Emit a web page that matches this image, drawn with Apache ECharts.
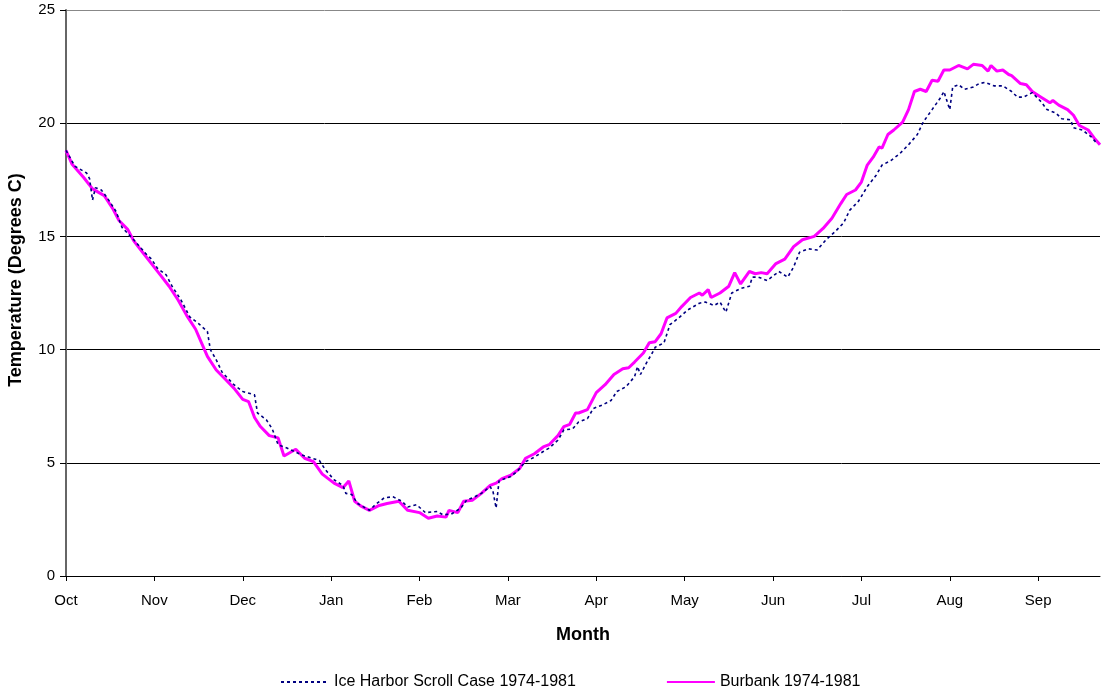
<!DOCTYPE html>
<html>
<head>
<meta charset="utf-8">
<script src="https://cdn.jsdelivr.net/npm/echarts@6/dist/echarts.min.js"></script>
<style>
  html, body { margin: 0; padding: 0; background: #fff; }
  #main { width: 1102px; height: 692px; }
</style>
</head>
<body>
<div id="main"></div>
<script>
// month tick labels, one every 30 days starting at Oct 1
var months = ['Oct', 'Nov', 'Dec', 'Jan', 'Feb', 'Mar', 'Apr', 'May', 'Jun', 'Jul', 'Aug', 'Sep'];

// Burbank 1974-1981 (day of water year, deg C)
var burbankDays = [0, 2, 6, 9, 13, 16, 18, 21, 23, 26, 29, 32, 35, 38, 41, 44, 46, 48, 51, 54, 57, 60, 62, 64, 66, 69, 72, 73, 74, 78, 81, 84, 87, 91, 94, 96, 98, 100, 103, 106, 109, 113, 116, 120, 123, 126, 129, 130, 133, 135, 138, 141, 144, 146, 148, 151, 154, 156, 159, 162, 164, 167, 169, 171, 173, 174, 177, 180, 183, 186, 189, 191, 193, 196, 198, 200, 202, 204, 207, 209, 212, 215, 216, 218, 219, 222, 225, 227, 229, 232, 234, 236, 238, 241, 244, 247, 250, 254, 257, 260, 263, 265, 268, 270, 272, 274, 276, 277, 279, 281, 284, 286, 288, 290, 292, 294, 296, 298, 300, 303, 306, 308, 311, 313, 314, 316, 318, 320, 321, 324, 326, 328, 331, 334, 335, 337, 340, 342, 344, 347, 349, 351];
var burbankTemps = [18.8, 18.2, 17.6, 17.1, 16.8, 16.2, 15.7, 15.3, 14.8, 14.3, 13.8, 13.3, 12.8, 12.2, 11.5, 10.9, 10.3, 9.7, 9.1, 8.7, 8.3, 7.8, 7.7, 7.0, 6.6, 6.2, 6.1, 5.7, 5.3, 5.6, 5.2, 5.05, 4.5, 4.1, 3.9, 4.2, 3.3, 3.1, 2.9, 3.1, 3.2, 3.3, 2.9, 2.8, 2.55, 2.65, 2.6, 2.9, 2.8, 3.3, 3.35, 3.65, 4.0, 4.1, 4.3, 4.45, 4.75, 5.2, 5.4, 5.7, 5.8, 6.2, 6.6, 6.7, 7.2, 7.2, 7.35, 8.1, 8.45, 8.9, 9.15, 9.2, 9.45, 9.85, 10.3, 10.35, 10.7, 11.4, 11.6, 11.9, 12.3, 12.5, 12.4, 12.65, 12.3, 12.5, 12.8, 13.4, 12.9, 13.45, 13.35, 13.4, 13.35, 13.8, 14.0, 14.55, 14.85, 15.0, 15.35, 15.8, 16.45, 16.85, 17.05, 17.4, 18.15, 18.5, 18.95, 18.9, 19.5, 19.7, 20.05, 20.6, 21.4, 21.5, 21.4, 21.9, 21.85, 22.35, 22.35, 22.55, 22.4, 22.6, 22.55, 22.3, 22.55, 22.3, 22.35, 22.15, 22.1, 21.75, 21.7, 21.4, 21.15, 20.9, 21.0, 20.8, 20.6, 20.35, 19.9, 19.7, 19.35, 19.05];

// Ice Harbor Scroll Case 1974-1981
var iceHarborDays = [0, 3, 7, 8, 9, 10, 12, 14, 17, 19, 23, 27, 29, 31, 34, 36, 39, 42, 45, 48, 49, 51, 53, 57, 60, 64, 65, 68, 70, 72, 75, 80, 86, 88, 91, 94, 95, 97, 99, 103, 105, 108, 111, 114, 116, 119, 122, 126, 128, 131, 134, 136, 138, 141, 144, 145, 146, 147, 151, 153, 156, 159, 162, 164, 167, 169, 172, 174, 177, 179, 182, 185, 187, 190, 193, 194, 195, 197, 199, 200, 203, 205, 208, 211, 215, 217, 220, 222, 224, 226, 229, 232, 233, 235, 238, 242, 245, 247, 249, 252, 255, 258, 261, 264, 266, 269, 272, 275, 277, 280, 283, 286, 289, 291, 294, 297, 298, 299, 300, 301, 303, 305, 308, 310, 312, 315, 318, 321, 323, 325, 328, 331, 333, 336, 338, 341, 342, 345, 348, 350];
var iceHarborTemps = [18.8, 18.1, 17.8, 17.55, 16.6, 17.15, 17.05, 16.7, 16.1, 15.4, 14.85, 14.25, 14.0, 13.6, 13.3, 12.8, 12.2, 11.45, 11.15, 10.8, 10.0, 9.55, 9.0, 8.45, 8.15, 8.0, 7.2, 6.9, 6.5, 5.8, 5.65, 5.35, 5.1, 4.7, 4.25, 4.0, 3.65, 3.6, 3.2, 2.9, 3.15, 3.45, 3.5, 3.3, 3.05, 3.15, 2.8, 2.85, 2.7, 2.75, 3.0, 3.35, 3.45, 3.65, 3.95, 3.7, 3.0, 4.2, 4.4, 4.6, 5.05, 5.25, 5.5, 5.65, 6.0, 6.45, 6.5, 6.8, 6.95, 7.4, 7.55, 7.75, 8.15, 8.35, 8.8, 9.25, 8.9, 9.4, 9.85, 10.1, 10.3, 11.1, 11.4, 11.75, 12.05, 12.1, 11.95, 12.1, 11.65, 12.5, 12.7, 12.8, 13.2, 13.2, 13.05, 13.45, 13.2, 13.65, 14.3, 14.45, 14.4, 14.85, 15.2, 15.6, 16.15, 16.55, 17.2, 17.7, 18.15, 18.35, 18.65, 19.05, 19.5, 20.05, 20.6, 21.15, 21.4, 21.0, 20.6, 21.6, 21.7, 21.5, 21.6, 21.75, 21.8, 21.65, 21.65, 21.4, 21.15, 21.15, 21.35, 20.95, 20.6, 20.45, 20.2, 20.15, 19.8, 19.7, 19.4, 19.1];

var pairs = function (days, temps) {
    return days.map(function (d, i) { return [d, temps[i]]; });
};

var chartDom = document.getElementById('main');
var myChart = echarts.init(chartDom, null, { renderer: 'canvas' });
var option;

var font = 'Liberation Sans, Arial, sans-serif';

option = {
    animation: false,
    textStyle: { fontFamily: font },
    grid: {
        left: 66,
        right: 2,
        top: 10,
        bottom: 116,
        outerBoundsMode: 'none'
    },
    legend: {
        left: 275,
        top: 669,
        itemWidth: 48,
        itemHeight: 14,
        itemGap: 90,
        textStyle: { fontSize: 16, color: '#000', fontFamily: font },
        data: [
            { name: 'Ice Harbor Scroll Case 1974-1981', itemStyle: { opacity: 0 } },
            { name: 'Burbank 1974-1981', itemStyle: { opacity: 0 } }
        ]
    },
    xAxis: {
        type: 'value',
        min: 0,
        max: 351,
        interval: 30,
        name: 'Month',
        nameLocation: 'middle',
        nameGap: 50,
        nameTextStyle: { fontSize: 18, fontWeight: 'bold', color: '#000' },
        axisLine: { lineStyle: { color: '#000', width: 1 } },
        axisTick: { show: true, length: 5, lineStyle: { color: '#000' } },
        axisLabel: {
            fontSize: 15,
            color: '#000',
            margin: 17,
            showMaxLabel: false,
            formatter: function (v) {
                var i = Math.round(v / 30);
                return v % 30 === 0 && i < months.length ? months[i] : '';
            }
        },
        splitLine: { show: false }
    },
    yAxis: {
        type: 'value',
        min: 0,
        max: 25,
        interval: 5,
        name: 'Temperature (Degrees C)',
        nameLocation: 'middle',
        nameGap: 41,
        nameTextStyle: { fontSize: 18, fontWeight: 'bold', color: '#000', padding: [0, 0, 0, 26] },
        axisLine: { show: true, lineStyle: { color: '#666', width: 2 } },
        axisTick: { show: true, length: 6, lineStyle: { color: '#000' } },
        axisLabel: { fontSize: 15, color: '#000', margin: 11 },
        splitLine: {
            show: true,
            lineStyle: { color: ['#000', '#000', '#000', '#000', '#000', '#888'], width: 1 }
        }
    },
    series: [
        {
            name: 'Ice Harbor Scroll Case 1974-1981',
            type: 'line',
            symbol: 'none',
            data: pairs(iceHarborDays, iceHarborTemps),
            lineStyle: { color: '#000080', width: 1.6, type: [3, 3] },
            itemStyle: { color: '#000080' },
            z: 3
        },
        {
            name: 'Burbank 1974-1981',
            type: 'line',
            symbol: 'none',
            data: pairs(burbankDays, burbankTemps),
            lineStyle: { color: '#FF00FF', width: 3 },
            itemStyle: { color: '#FF00FF' },
            z: 2
        }
    ]
};

option && myChart.setOption(option);
</script>
</body>
</html>
